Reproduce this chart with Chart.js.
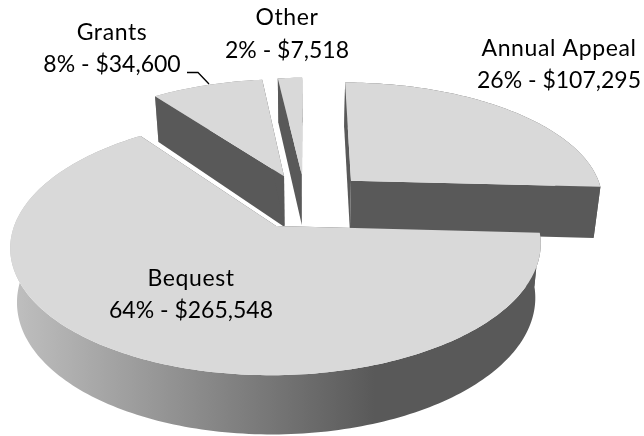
<!DOCTYPE html>
<html>
<head>
<meta charset="utf-8">
<script src="https://cdn.jsdelivr.net/npm/chart.js@4"></script>
<style>
    html, body { margin: 0; padding: 0; background: #fff; }
    canvas { display: block; }
</style>
</head>
<body>
<canvas id="pieChart" width="644" height="436"></canvas>
<script>
const categories = ['Annual Appeal', 'Bequest', 'Grants', 'Other'];
const amounts = [107295, 265548, 34600, 7518];
const amountLabels = ['$107,295', '$265,548', '$34,600', '$7,518'];
const percentLabels = ['26%', '64%', '8%', '2%'];

// how far each slice is pulled out, px on the pie plane
const explode = [65, 59, 59, 59];
// label centre x and the two baselines
const labelSpots = [[559, 56, 88], [191, 286, 318], [112, 40, 72], [287, 25, 58]];
const drawOrder = [3, 2, 0, 1];

// tilted view of the pie plane
const view = { x: 305, y: 201, r: 254, f: 118.5, a: 0.15 };
const topColor = '#d9d9d9';
const wallColor = '#595959';

function project(u, v, down) {
    const k = 1 / (1 + view.a * v);
    let x = view.x + view.r * u * k;
    let y = view.y - view.f * v * k;
    if (down) {
        x = view.x + (x - view.x) * 0.977;
        y += 52 - 6 * v;
    }
    return [x, y];
}

function slicePoints(arc, offset, down) {
    const start = arc.startAngle + Math.PI / 2;
    const end = arc.endAngle + Math.PI / 2;
    const mid = (start + end) / 2;
    const d = offset / view.r;
    const cu = d * Math.sin(mid);
    const cv = d * Math.cos(mid);
    const rim = [];
    const steps = Math.max(4, Math.ceil((end - start) / 0.02));
    for (let i = 0; i <= steps; i++) {
        const t = start + (end - start) * i / steps;
        rim.push(project(cu + Math.sin(t), cv + Math.cos(t), down));
    }
    return { apex: project(cu, cv, down), rim: rim };
}

function fillPoly(ctx, pts, color) {
    ctx.beginPath();
    pts.forEach((p, i) => i ? ctx.lineTo(p[0], p[1]) : ctx.moveTo(p[0], p[1]));
    ctx.closePath();
    ctx.fillStyle = color;
    ctx.fill();
}

const pie3d = {
    id: 'pie3d',
    beforeDatasetsDraw(chart) {
        const ctx = chart.ctx;
        const arcs = chart.getDatasetMeta(0).data;
        const sideShade = ctx.createLinearGradient(10, 0, 375, 0);
        sideShade.addColorStop(0, '#c0c0c0');
        sideShade.addColorStop(1, wallColor);

        drawOrder.forEach(i => {
            const top = slicePoints(arcs[i], explode[i], false);
            const low = slicePoints(arcs[i], explode[i], true);
            const last = top.rim.length - 1;
            fillPoly(ctx, top.rim.concat(low.rim.slice().reverse()), sideShade);
            fillPoly(ctx, [top.apex, top.rim[0], low.rim[0], low.apex], wallColor);
            fillPoly(ctx, [top.apex, top.rim[last], low.rim[last], low.apex], wallColor);
            fillPoly(ctx, [top.apex].concat(top.rim), topColor);
        });
        return false; // slices are painted above, skip the flat ones
    },
    afterDraw(chart) {
        const ctx = chart.ctx;
        ctx.save();
        ctx.font = '23px Lato';
        ctx.fillStyle = '#000';
        ctx.textAlign = 'center';
        categories.forEach((name, i) => {
            ctx.letterSpacing = '0.6px';
            ctx.fillText(name, labelSpots[i][0], labelSpots[i][1]);
            ctx.letterSpacing = '0px';
            ctx.fillText(percentLabels[i] + ' - ' + amountLabels[i], labelSpots[i][0], labelSpots[i][2]);
        });
        // leader line for Grants
        ctx.strokeStyle = '#000';
        ctx.lineWidth = 1.3;
        ctx.beginPath();
        ctx.moveTo(187, 72.5);
        ctx.lineTo(198, 72.5);
        ctx.lineTo(209, 84);
        ctx.stroke();
        ctx.restore();
    }
};

new Chart(document.getElementById('pieChart').getContext('2d'), {
    type: 'pie',
    data: {
        labels: categories,
        datasets: [{
            data: amounts,
            backgroundColor: topColor,
            borderWidth: 0
        }]
    },
    options: {
        responsive: false,
        animation: false,
        plugins: {
            legend: { display: false },
            tooltip: { enabled: false }
        }
    },
    plugins: [pie3d]
});
</script>
</body>
</html>
